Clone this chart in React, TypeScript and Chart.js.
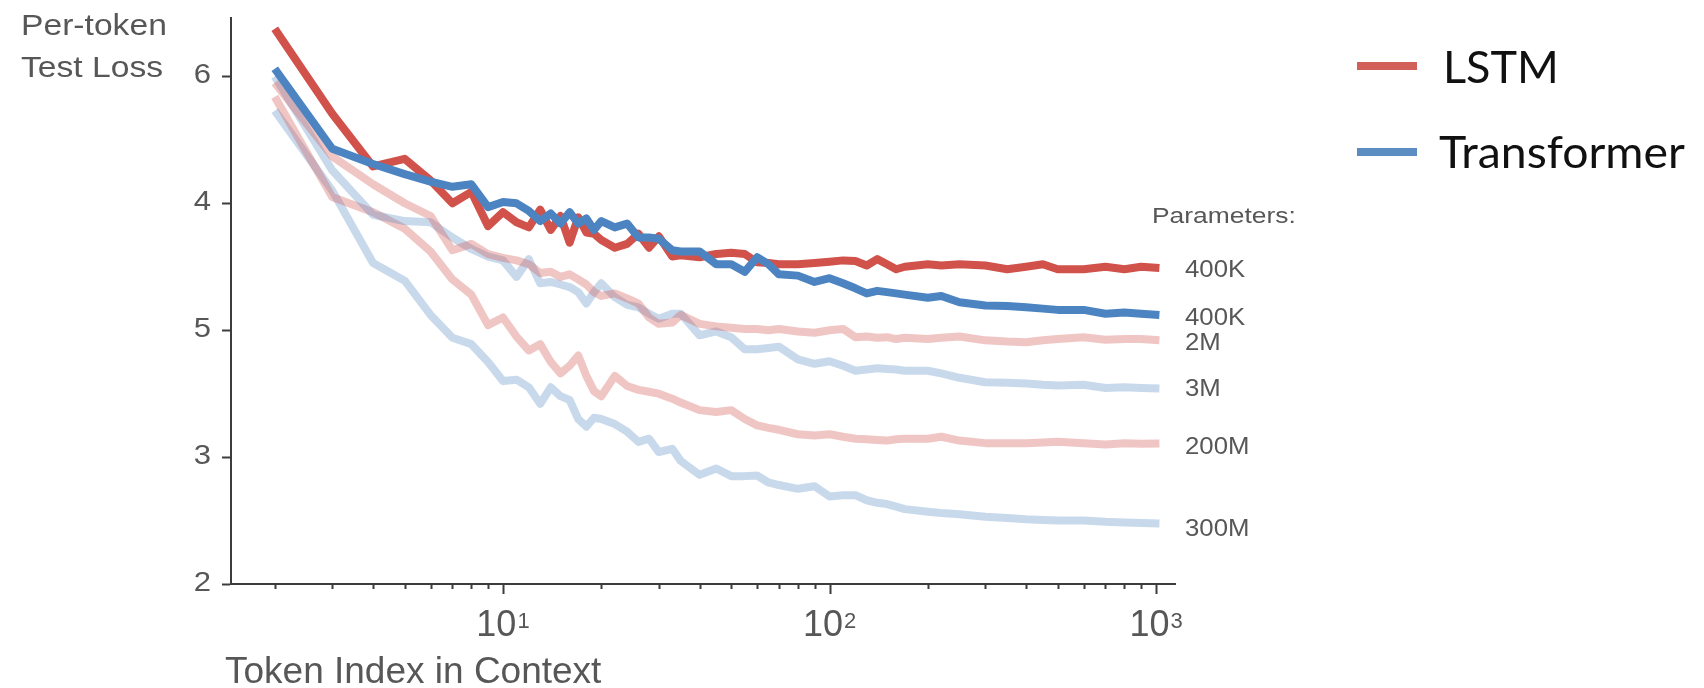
import { useEffect, useRef } from "react";
import { Chart, registerables } from "chart.js";

Chart.register(...registerables);

// ---- data ----
const tokens = [
  2, 3, 4, 5, 6, 7, 8, 9, 10, 11, 12, 13, 14, 15, 16, 17, 18, 19, 20,
  22, 24, 26, 28, 30,
  33, 35, 40, 45, 50, 55, 60, 65, 70,
  80, 90, 100, 110, 120, 130, 140, 150, 160, 170,
  200, 220, 250, 300, 350, 400, 450, 500,
  600, 700, 800, 900, 1024,
];

const lstm400K = [
  6.375, 5.705, 5.29, 5.35, 5.18, 5.0, 5.09, 4.82, 4.93, 4.85, 4.81, 4.95, 4.79, 4.9, 4.69, 4.89, 4.77, 4.76, 4.71,
  4.65, 4.68, 4.76, 4.65, 4.74,
  4.58, 4.59, 4.575, 4.6, 4.61, 4.6, 4.535, 4.53, 4.52,
  4.52, 4.53, 4.54, 4.55, 4.545, 4.51, 4.56, 4.52, 4.48, 4.5,
  4.52, 4.51, 4.52, 4.51, 4.48, 4.5, 4.52, 4.48,
  4.48, 4.5, 4.48, 4.5, 4.49,
];

const transformer400K = [
  6.06, 5.43, 5.31, 5.23, 5.17, 5.13, 5.15, 4.97, 5.01, 5.0, 4.94, 4.86, 4.92, 4.84, 4.93, 4.84, 4.88, 4.79, 4.86,
  4.81, 4.84, 4.73, 4.73, 4.72,
  4.63, 4.62, 4.62, 4.52, 4.52, 4.46, 4.575, 4.52, 4.44,
  4.43, 4.38, 4.41, 4.37, 4.33, 4.29, 4.31, 4.3, 4.29, 4.28,
  4.255, 4.27, 4.22, 4.195, 4.19, 4.18, 4.17, 4.16,
  4.16, 4.13, 4.14, 4.13, 4.12,
];

const lstm2M = [
  5.95, 5.37, 5.15, 5.0, 4.9, 4.63, 4.68, 4.6, 4.57, 4.55, 4.52, 4.45, 4.46, 4.42, 4.44, 4.4, 4.36, 4.3, 4.27,
  4.29, 4.25, 4.21, 4.1, 4.05,
  4.06, 4.12, 4.05, 4.03, 4.02, 4.01, 4.01, 4.0, 4.01,
  3.99, 3.98, 4.0, 4.01, 3.945, 3.95, 3.94, 3.945, 3.93, 3.94,
  3.93, 3.94, 3.95, 3.92, 3.91, 3.905, 3.92, 3.93,
  3.945, 3.925, 3.93, 3.93, 3.92,
];

const transformer3M = [
  6.0, 5.26, 4.91, 4.86, 4.85, 4.73, 4.64, 4.58, 4.55, 4.42, 4.56, 4.37, 4.38, 4.36, 4.34, 4.3, 4.21, 4.3, 4.37,
  4.26, 4.2, 4.18, 4.13, 4.09,
  4.13, 4.13, 3.96, 3.99, 3.945, 3.85, 3.85, 3.86, 3.87,
  3.77, 3.735, 3.755, 3.72, 3.68, 3.69, 3.7, 3.695, 3.69, 3.68,
  3.68, 3.66, 3.625, 3.59, 3.585, 3.58, 3.57, 3.565,
  3.57, 3.545, 3.55, 3.545, 3.54,
];

const lstm200M = [
  5.84, 5.05, 4.93, 4.8, 4.62, 4.4, 4.28, 4.04, 4.1, 3.95, 3.84, 3.89, 3.75, 3.66, 3.72, 3.8, 3.64, 3.52, 3.48,
  3.64, 3.56, 3.53, 3.515, 3.5,
  3.46, 3.43, 3.37, 3.355, 3.37, 3.3, 3.25, 3.23, 3.215,
  3.18, 3.17, 3.18, 3.16, 3.145, 3.14, 3.135, 3.13, 3.14, 3.145,
  3.145, 3.16, 3.13, 3.11, 3.11, 3.11, 3.115, 3.12,
  3.11, 3.1, 3.11, 3.105, 3.107,
];

const transformer300M = [
  5.73, 5.1, 4.53, 4.39, 4.12, 3.94, 3.89, 3.75, 3.6, 3.61, 3.55, 3.42, 3.55, 3.48, 3.45, 3.3, 3.24, 3.31, 3.3,
  3.26, 3.2, 3.12, 3.145, 3.04,
  3.065, 2.97, 2.86, 2.91, 2.85, 2.85, 2.855, 2.8, 2.78,
  2.75, 2.77, 2.69, 2.7, 2.7, 2.66, 2.64, 2.63, 2.61, 2.59,
  2.57, 2.56, 2.55, 2.53, 2.52, 2.51, 2.505, 2.5,
  2.5, 2.49, 2.485, 2.48, 2.477,
];

const seriesNames = ["LSTM 400K", "Transformer 400K", "LSTM 2M", "Transformer 3M", "LSTM 200M", "Transformer 300M"];
const paramLabels = ["400K", "400K", "2M", "3M", "200M", "300M"];
const legendLabels = ["LSTM", "Transformer"];

const yTickValues = [2, 3, 4, 5, 6];
const yTickLabels = ["2", "3", "5", "4", "6"];
const xMajorTicks = [10, 100, 1000];
const xMajorExponents = ["1", "2", "3"];
const xMinorTicks = [2, 3, 4, 5, 6, 7, 8, 9, 20, 30, 40, 50, 60, 70, 80, 90, 200, 300, 400, 500, 600, 700, 800, 900];

// ---- styles ----
const RED = "#d1524b";
const BLUE = "#4c84c1";
const LIGHT_RED = "rgba(210, 82, 75, 0.33)";
const LIGHT_BLUE = "rgba(76, 132, 193, 0.31)";
const AXIS = "#3c3c3c";
const GRAY_TEXT = "#575757";
const SANS = '"Liberation Sans", Arial, Helvetica, sans-serif';
const LEGEND_FONT = '45px Lato, "Noto Sans", sans-serif';

function drawText(
  ctx: CanvasRenderingContext2D,
  s: string,
  x: number,
  y: number,
  font: string,
  color: string,
  align: CanvasTextAlign,
  sx = 1
) {
  ctx.save();
  ctx.font = font;
  ctx.fillStyle = color;
  ctx.textAlign = align;
  ctx.textBaseline = "alphabetic";
  ctx.translate(x, y);
  ctx.scale(sx, 1);
  ctx.fillText(s, 0, 0);
  ctx.restore();
}

const overlayPlugin = {
  id: "overlay",
  afterDraw(chart: any) {
    const ctx: CanvasRenderingContext2D = chart.ctx;
    const xs = chart.scales.x;
    const ys = chart.scales.y;
    const area = chart.chartArea;
    ctx.save();

    // x-axis ticks (minor + major)
    ctx.strokeStyle = AXIS;
    ctx.lineWidth = 2;
    ctx.beginPath();
    for (const t of xMinorTicks) {
      const px = Math.round(xs.getPixelForValue(t)) + 0.5;
      ctx.moveTo(px, area.bottom);
      ctx.lineTo(px, area.bottom + 5);
    }
    for (const t of xMajorTicks) {
      const px = Math.round(xs.getPixelForValue(t)) + 0.5;
      ctx.moveTo(px, area.bottom);
      ctx.lineTo(px, area.bottom + 10);
    }
    ctx.stroke();

    // x-axis labels 10^n
    const baseFont = `36px ${SANS}`;
    const supFont = `22px ${SANS}`;
    xMajorTicks.forEach((t, i) => {
      const px = xs.getPixelForValue(t);
      ctx.font = baseFont;
      const w1 = ctx.measureText("10").width;
      ctx.font = supFont;
      const w2 = ctx.measureText(xMajorExponents[i]).width;
      const left = px - (w1 + w2 + 1) / 2;
      drawText(ctx, "10", left, area.bottom + 52, baseFont, GRAY_TEXT, "left");
      drawText(ctx, xMajorExponents[i], left + w1 + 1, area.bottom + 44, supFont, GRAY_TEXT, "left");
    });

    // x-axis title
    drawText(ctx, "Token Index in Context", 225, 683, `37px ${SANS}`, GRAY_TEXT, "left");

    // y tick labels
    yTickValues.forEach((v, i) => {
      const py = ys.getPixelForValue(v);
      drawText(ctx, yTickLabels[i], 211, py + 7, `27px ${SANS}`, GRAY_TEXT, "right", 1.15);
    });

    // y-axis title
    drawText(ctx, "Per-token", 21, 35, `29px ${SANS}`, GRAY_TEXT, "left", 1.16);
    drawText(ctx, "Test Loss", 21, 77, `29px ${SANS}`, GRAY_TEXT, "left", 1.16);

    // Parameters labels at line ends
    drawText(ctx, "Parameters:", 1152, 223, `22px ${SANS}`, GRAY_TEXT, "left", 1.2);
    const ends = [lstm400K, transformer400K, lstm2M, transformer3M, lstm200M, transformer300M];
    const nudges = [-1, 0, 0, -3, 0, 3];
    ends.forEach((arr, i) => {
      const py = ys.getPixelForValue(arr[arr.length - 1]);
      drawText(ctx, paramLabels[i], 1185, py + 10 + nudges[i], `23px ${SANS}`, GRAY_TEXT, "left", 1.12);
    });

    // legend (LSTM / Transformer)
    ctx.fillStyle = "#d25f58";
    ctx.fillRect(1357, 62, 60, 8);
    ctx.fillStyle = "#5b8dc3";
    ctx.fillRect(1357, 148, 60, 8);
    drawText(ctx, legendLabels[0], 1443, 83, LEGEND_FONT, "#111111", "left");
    drawText(ctx, legendLabels[1], 1439, 168, LEGEND_FONT, "#111111", "left", 1.03);

    ctx.restore();
  },
};

function toPoints(vals: number[]) {
  return tokens.map((t, i) => ({ x: t, y: vals[i] }));
}

export default function App() {
  const canvasRef = useRef<HTMLCanvasElement | null>(null);

  useEffect(() => {
    const canvas = canvasRef.current;
    if (!canvas) return;
    const mk = (label: string, vals: number[], color: string, order: number, width: number) => ({
      label,
      data: toPoints(vals),
      borderColor: color,
      backgroundColor: color,
      borderWidth: width,
      pointRadius: 0,
      tension: 0,
      fill: false,
      order,
      borderJoinStyle: "round" as const,
      borderCapStyle: "butt" as const,
    });
    const chart = new Chart(canvas, {
      type: "line",
      data: {
        datasets: [
          mk(seriesNames[1], transformer400K, BLUE, 0, 8),
          mk(seriesNames[0], lstm400K, RED, 1, 8),
          mk(seriesNames[2], lstm2M, LIGHT_RED, 2, 8),
          mk(seriesNames[3], transformer3M, LIGHT_BLUE, 3, 8),
          mk(seriesNames[4], lstm200M, LIGHT_RED, 4, 8),
          mk(seriesNames[5], transformer300M, LIGHT_BLUE, 5, 8),
        ],
      },
      options: {
        responsive: false,
        animation: false,
        devicePixelRatio: 1,
        layout: { padding: { left: 0, top: 18, right: 529, bottom: 0 } },
        plugins: { legend: { display: false }, tooltip: { enabled: false } },
        scales: {
          x: {
            type: "logarithmic",
            min: 1.469,
            max: 1143,
            ticks: { display: false },
            grid: { display: false, drawTicks: false },
            border: { display: true, color: AXIS, width: 2 },
            afterFit: (scale: any) => {
              scale.height = 104;
            },
          },
          y: {
            type: "linear",
            min: 2,
            max: 6.46,
            afterBuildTicks: (scale: any) => {
              scale.ticks = yTickValues.map((v) => ({ value: v }));
            },
            ticks: { display: false },
            grid: {
              drawOnChartArea: false,
              drawTicks: true,
              tickLength: 9,
              tickColor: AXIS,
              tickWidth: 2,
            },
            border: { display: true, color: AXIS, width: 2 },
            afterFit: (scale: any) => {
              scale.width = 231;
            },
          },
        },
      },
      plugins: [overlayPlugin],
    });
    return () => chart.destroy();
  }, []);

  return (
    <div style={{ position: "fixed", left: 0, top: 0, width: 1704, height: 688, background: "#ffffff" }}>
      <canvas ref={canvasRef} width={1704} height={688} style={{ display: "block" }} />
    </div>
  );
}
